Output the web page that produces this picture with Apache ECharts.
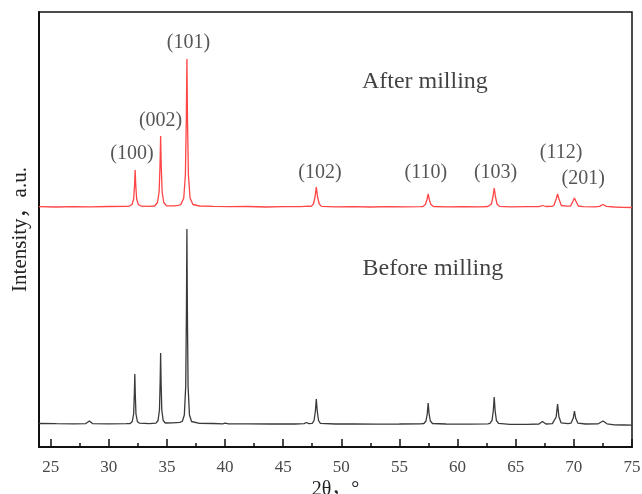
<!DOCTYPE html>
<html>
<head>
<meta charset="utf-8">
<script src="https://cdn.jsdelivr.net/npm/echarts@6/dist/echarts.min.js"></script>
<style>
  html, body { margin: 0; padding: 0; background: #fff; }
  #chart { width: 642px; height: 494px; }
</style>
</head>
<body>
<div id="chart"></div>
<script>
// XRD 图谱: [2θ, 强度]，强度为相对各自基线的读数
var afterMilling = [
  [24, 0.3], [25.5, 0], [27, 0.4], [28.4, 0.2], [30, 0.5], [31.5, 0.6],
  [31.75, 0.8], [32.0, 2.5], [32.14, 8], [32.22, 22], [32.27, 37], [32.32, 22], [32.4, 8], [32.54, 2.5], [32.8, 0.8],
  [33.5, 0.6],
  [33.95, 1], [34.19, 4.5], [34.33, 15], [34.41, 42], [34.46, 71], [34.51, 42], [34.59, 15], [34.73, 4.5], [34.97, 1.2],
  [35.6, 1.2], [36.0, 1.6],
  [36.2, 2.5], [36.45, 9], [36.59, 32], [36.67, 88], [36.72, 148], [36.77, 88], [36.85, 32], [36.99, 9], [37.24, 2.5],
  [37.8, 1], [39, 0.6], [40.5, 0.3], [42, 0.5], [43.5, 0], [45, 0.4], [46.5, 0.3], [47.2, 0.8],
  [47.4, 0.6], [47.6, 3], [47.74, 10], [47.85, 20], [47.96, 10], [48.1, 3], [48.3, 0.6],
  [49.5, 0.2], [51, 0.4], [52.5, 0], [54, 0.3], [55.5, 0.2], [56.8, 0.4],
  [57.02, 0.5], [57.23, 2.5], [57.36, 7], [57.47, 13], [57.58, 7], [57.71, 2.5], [57.92, 0.5],
  [59, 0.2], [60.5, 0.3], [62, 0.2], [62.6, 0.5],
  [62.7, 0.6], [62.91, 3], [63.04, 10], [63.15, 19], [63.26, 10], [63.39, 3], [63.6, 0.6],
  [64.5, 0.2], [66, 0.3], [67.0, 0.3], [67.3, 1.5], [67.6, 0.5], [68.1, 0.6],
  [68.28, 1.5], [68.48, 8], [68.6, 13], [68.72, 8], [68.92, 1.5], [69.4, 0.8],
  [69.72, 1], [69.93, 6], [70.05, 9], [70.17, 6], [70.38, 1], [70.8, 0.3],
  [71.8, 0.2], [72.2, 0.6], [72.5, 2.5], [72.8, 0.6], [73.5, 0], [74.2, -0.3], [75, -0.5]
]

var beforeMilling = [
  [24, 0.5], [25.5, 0.3], [27, 0.2], [28.0, 0.3], [28.33, 3], [28.6, 0.4], [30, 0.2], [31.5, 0.3],
  [31.84, 0.5], [32.02, 2.5], [32.14, 10], [32.2, 30], [32.24, 50], [32.28, 30], [32.34, 10], [32.46, 2.5], [32.64, 0.8],
  [33.5, 0.4],
  [34.06, 0.8], [34.24, 3.5], [34.36, 14], [34.42, 42], [34.46, 71], [34.5, 42], [34.56, 14], [34.68, 3.5], [34.86, 1],
  [35.5, 1.2], [36.1, 1.6],
  [36.32, 2.5], [36.5, 9], [36.62, 38], [36.68, 115], [36.72, 195], [36.76, 115], [36.82, 38], [36.94, 9], [37.12, 2.5],
  [37.8, 0.6], [39, 0.5], [39.8, 0.2], [40, 0.8], [40.3, 0.2], [42, 0.1], [44, 0], [46, 0], [46.8, 0.4], [47.0, 1.5], [47.2, 0.4],
  [47.5, 0.6], [47.66, 3.5], [47.77, 13], [47.85, 25], [47.93, 13], [48.04, 3.5], [48.2, 0.6],
  [49.5, 0], [51, 0.1], [53, -0.2], [55, 0], [56.8, 0.2],
  [57.1, 0.5], [57.28, 3], [57.39, 10], [57.47, 21], [57.55, 10], [57.66, 3], [57.84, 0.5],
  [59, 0], [61, -0.2], [62.6, 0.2],
  [62.78, 0.6], [62.96, 3.5], [63.07, 13], [63.15, 27], [63.23, 13], [63.34, 3.5], [63.52, 0.6],
  [64.5, -0.3], [66, -0.3], [67.0, 0], [67.3, 2.5], [67.6, 0], [68.15, 0.4],
  [68.3, 1.2], [68.48, 7], [68.6, 20], [68.72, 7], [68.9, 1.2], [69.5, 0.4],
  [69.75, 0.8], [69.95, 6], [70.05, 13], [70.15, 6], [70.35, 0.8], [71, 0],
  [72.1, 0.2], [72.5, 3], [72.85, 0.2], [73.5, -0.8], [74.3, -1], [75, -1.2]
]

// 两条曲线的竖直偏移
var afterOffset = 240
var beforeOffset = 23

// 晶面标注: 文字, 2θ, 纵坐标
var hklText = ['(100)', '(002)', '(101)', '(102)', '(110)', '(103)', '(112)', '(201)']
var hklTheta = [32.0, 34.46, 36.86, 48.16, 57.27, 63.27, 68.9, 70.8]
var hklY = [293, 326, 404, 274, 274, 274, 294, 268]

var sampleText = ['After milling', 'Before milling']
var sampleTheta = [51.77, 51.83]
var sampleY = [365, 178]

var majorTicks = [25, 30, 35, 40, 45, 50, 55, 60, 65, 70, 75]
var minorTicks = [27.5, 32.5, 37.5, 42.5, 47.5, 52.5, 57.5, 62.5, 67.5, 72.5]

var serif = '"Liberation Serif", "Times New Roman", "Noto Sans CJK SC", serif'

var myChart = echarts.init(document.getElementById('chart'))
var option = {
  animation: false,
  grid: {
    left: 39,
    right: 10,
    top: 12,
    bottom: 47,
    outerBoundsMode: 'none',
    containLabel: false,
    show: true,
    borderColor: '#111',
    borderWidth: 1.5
  },
  xAxis: [
    {
      type: 'value',
      min: 24,
      max: 75,
      name: '2θ，°',
      nameLocation: 'middle',
      nameGap: 33,
      nameMoveOverlap: false,
      nameTextStyle: { fontFamily: serif, fontSize: 20, color: '#222' },
      axisLine: { show: true, lineStyle: { color: '#111', width: 2 } },
      axisTick: {
        show: true,
        inside: true,
        length: 8,
        customValues: majorTicks,
        lineStyle: { color: '#111', width: 1.5 }
      },
      axisLabel: {
        customValues: majorTicks,
        margin: 12,
        fontFamily: serif,
        fontSize: 17,
        color: '#484848'
      },
      splitLine: { show: false }
    },
    {
      type: 'value',
      min: 24,
      max: 75,
      position: 'bottom',
      axisLine: { show: false },
      axisTick: {
        show: true,
        inside: true,
        length: 4,
        customValues: minorTicks,
        lineStyle: { color: '#111', width: 1.5 }
      },
      axisLabel: { show: false },
      splitLine: { show: false }
    }
  ],
  yAxis: {
    type: 'value',
    min: 0,
    max: 435,
    name: 'Intensity，a.u.',
    nameLocation: 'middle',
    nameGap: 8,
    nameMoveOverlap: false,
    nameTextStyle: { fontFamily: serif, fontSize: 21, color: '#222' },
    axisLine: { show: true, lineStyle: { color: '#111', width: 2 } },
    axisTick: { show: false },
    axisLabel: { show: false },
    splitLine: { show: false }
  },
  series: [
    {
      name: 'After milling',
      type: 'line',
      showSymbol: false,
      data: afterMilling.map(function (p) { return [p[0], p[1] + afterOffset] }),
      lineStyle: { color: '#ff4545', width: 1.3 },
      itemStyle: { color: '#ff4545' },
      z: 3
    },
    {
      name: 'Before milling',
      type: 'line',
      showSymbol: false,
      data: beforeMilling.map(function (p) { return [p[0], p[1] + beforeOffset] }),
      lineStyle: { color: '#3a3a3a', width: 1.3 },
      itemStyle: { color: '#3a3a3a' },
      z: 3
    },
    {
      type: 'scatter',
      symbolSize: 0,
      silent: true,
      data: hklText.map(function (t, i) { return { value: [hklTheta[i], hklY[i]], name: t } }),
      label: {
        show: true,
        position: 'inside',
        formatter: '{b}',
        fontFamily: serif,
        fontSize: 20,
        color: '#2a2a2a'
      }
    },
    {
      type: 'scatter',
      symbolSize: 0,
      silent: true,
      data: sampleText.map(function (t, i) { return { value: [sampleTheta[i], sampleY[i]], name: t } }),
      label: {
        show: true,
        position: 'right',
        distance: 0,
        formatter: '{b}',
        fontFamily: serif,
        fontSize: 24,
        color: '#111'
      }
    }
  ]
}
myChart.setOption(option)
</script>
</body>
</html>
